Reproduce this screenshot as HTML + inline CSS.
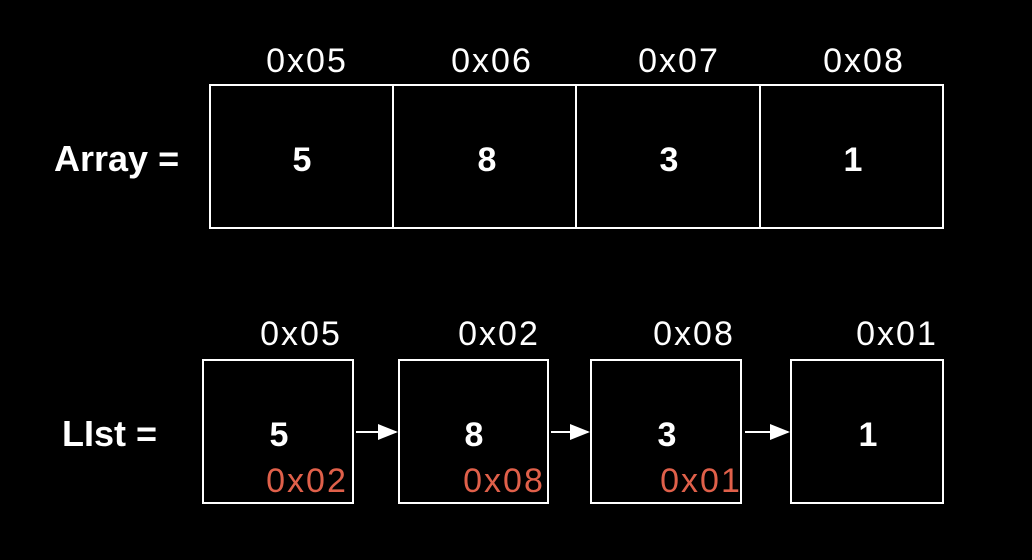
<!DOCTYPE html>
<html><head><meta charset="utf-8"><style>
html,body{margin:0;padding:0;background:#000;}
svg{display:block}
text{font-family:"Liberation Sans",sans-serif;fill:#fff}
.addr{font-size:34px;letter-spacing:2px}
.val{font-size:34px;font-weight:bold}
.lbl{font-size:36px;font-weight:bold}
.red{font-size:34px;letter-spacing:2px;fill:#e0604a}
</style></head><body>
<svg width="1032" height="560" viewBox="0 0 1032 560">
<defs><marker id="ah" markerWidth="10" markerHeight="10" refX="9" refY="5" orient="auto"><path d="M0,1 L10,5 L0,9 z" fill="#fff"/></marker></defs>
<g>
<text class="lbl" x="54" y="171">Array =</text>
<rect x="210" y="85" width="733" height="143" fill="none" stroke="#fff" stroke-width="2"/>
<line x1="393" y1="85" x2="393" y2="228" stroke="#fff" stroke-width="2"/>
<line x1="576" y1="85" x2="576" y2="228" stroke="#fff" stroke-width="2"/>
<line x1="760" y1="85" x2="760" y2="228" stroke="#fff" stroke-width="2"/>
<g text-anchor="middle">
<text class="addr" x="307" y="72">0x05</text>
<text class="addr" x="492" y="72">0x06</text>
<text class="addr" x="679" y="72">0x07</text>
<text class="addr" x="864" y="72">0x08</text>
<text class="val" x="302" y="171">5</text>
<text class="val" x="487" y="171">8</text>
<text class="val" x="669" y="171">3</text>
<text class="val" x="853" y="171">1</text>
</g></g>
<g>
<text class="lbl" x="62" y="446">LIst =</text>
<rect x="203" y="360" width="150" height="143" fill="none" stroke="#fff" stroke-width="2"/>
<rect x="399" y="360" width="149" height="143" fill="none" stroke="#fff" stroke-width="2"/>
<rect x="591" y="360" width="150" height="143" fill="none" stroke="#fff" stroke-width="2"/>
<rect x="791" y="360" width="152" height="143" fill="none" stroke="#fff" stroke-width="2"/>
<line x1="356" y1="432" x2="396" y2="432" stroke="#fff" stroke-width="2" marker-end="url(#ah)"/>
<line x1="551" y1="432" x2="588" y2="432" stroke="#fff" stroke-width="2" marker-end="url(#ah)"/>
<line x1="745" y1="432" x2="788" y2="432" stroke="#fff" stroke-width="2" marker-end="url(#ah)"/>
<g text-anchor="middle">
<text class="addr" x="301" y="345">0x05</text>
<text class="addr" x="499" y="345">0x02</text>
<text class="addr" x="694" y="345">0x08</text>
<text class="addr" x="897" y="345">0x01</text>
<text class="val" x="279" y="446">5</text>
<text class="val" x="474" y="446">8</text>
<text class="val" x="667" y="446">3</text>
<text class="val" x="868" y="446">1</text>
<text class="red" x="307" y="492">0x02</text>
<text class="red" x="504" y="492">0x08</text>
<text class="red" x="701" y="492">0x01</text>
</g></g>
</svg>
</body></html>
